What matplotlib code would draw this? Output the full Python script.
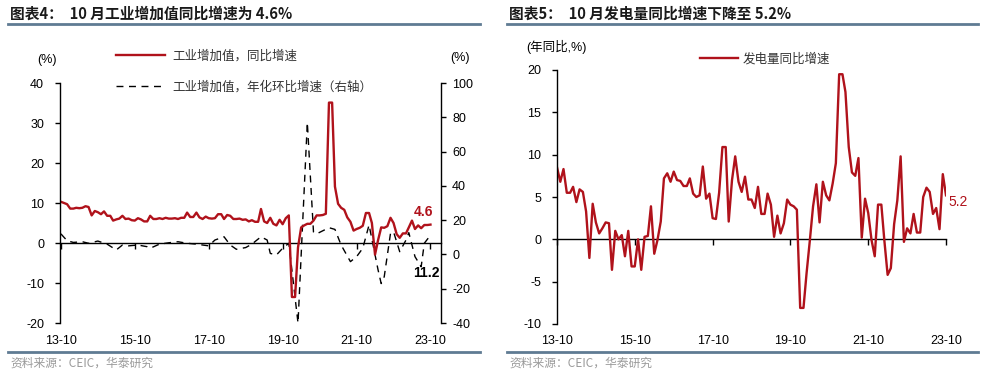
import matplotlib
matplotlib.use("Agg")
import matplotlib.pyplot as plt
import matplotlib.dates as mdates
from matplotlib.lines import Line2D
import pandas as pd

# ---------------- data ----------------
months = pd.date_range("2013-10-01", "2023-10-01", freq="MS")

# Industrial value added, YoY (%), left axis
iva_yoy = [10.3, 10.0, 9.7,
           8.6, 8.6, 8.8, 8.7, 8.8, 9.2, 9.0, 6.9, 8.0, 7.7, 7.2, 7.9,
           6.8, 6.8, 5.6, 5.9, 6.1, 6.8, 6.0, 6.1, 5.7, 5.6, 6.2, 5.9,
           5.4, 5.4, 6.8, 6.0, 6.0, 6.2, 6.0, 6.3, 6.1, 6.1, 6.2, 6.0,
           6.3, 6.3, 7.6, 6.5, 6.5, 7.6, 6.4, 6.0, 6.6, 6.2, 6.1, 6.2,
           7.2, 7.2, 6.0, 7.0, 6.8, 6.0, 6.0, 6.1, 5.8, 5.9, 5.4, 5.7,
           5.3, 5.3, 8.5, 5.4, 5.0, 6.3, 4.8, 4.4, 5.8, 4.7, 6.2, 6.9,
           -13.5, -13.5, -1.1, 3.9, 4.4, 4.8, 4.8, 5.6, 6.9, 6.9, 7.0, 7.3,
           35.1, 35.1, 14.1, 9.8, 8.8, 8.3, 6.4, 5.3, 3.1, 3.5, 3.8, 4.3,
           7.5, 7.5, 5.0, -2.9, 0.7, 3.9, 3.8, 4.2, 6.3, 5.0, 2.2, 1.3,
           2.4, 2.4, 3.9, 5.6, 3.5, 4.4, 3.7, 4.5, 4.5, 4.6]

# Industrial value added, annualised MoM (%), right axis (read at these months)
iva_mom_dates = ["2013-10", "2013-12", "2014-02", "2014-05", "2014-07", "2014-10",
                 "2015-01", "2015-04", "2015-06", "2015-08", "2015-11", "2016-02",
                 "2016-03", "2016-06", "2016-09", "2016-12", "2017-03", "2017-06",
                 "2017-10", "2017-12", "2018-03", "2018-05", "2018-07", "2018-10",
                 "2018-12", "2019-03", "2019-05", "2019-06", "2019-08", "2019-10",
                 "2019-12", "2020-03", "2020-06", "2020-08", "2020-09", "2021-01",
                 "2021-03", "2021-05", "2021-08", "2021-10", "2021-12", "2022-02",
                 "2022-05", "2022-06", "2022-07", "2022-09", "2022-10", "2022-12",
                 "2023-02", "2023-03", "2023-05", "2023-07", "2023-08", "2023-10"]
iva_mom = [12.0, 8.0, 7.0, 7.4, 6.5, 7.8,
           6.0, 2.6, 5.5, 5.0, 5.5, 4.5,
           3.6, 6.0, 6.8, 7.4, 6.5, 6.0,
           5.0, 8.4, 10.3, 5.5, 3.0, 4.0,
           6.0, 10.3, 8.4, 0.6, -0.3, 3.6,
           6.5, -40.0, 77.0, 13.0, 12.0, 15.6,
           14.6, 5.5, -4.2, -1.3, 3.6, 17.2,
           -9.0, -17.0, -13.0, 12.3, 13.2, 1.6,
           8.4, 12.7, -1.3, -7.2, 6.5, 11.2]

# Power generation, YoY (%)
power_yoy = [8.5, 6.8, 8.3, 5.5, 5.5, 6.2, 4.4, 5.9, 5.6, 3.3,
             -2.2, 4.2, 2.0, 0.7, 1.3, 2.0, 1.9, -3.6, 1.0, 0.0,
             0.5, -2.0, 1.0, -3.2, -3.2, 0.0, -3.6, 0.3, 0.4, 3.9,
             -1.7, -0.1, 2.1, 7.2, 7.8, 6.8, 8.0, 7.0, 6.9, 6.3,
             6.3, 7.2, 5.4, 5.0, 5.2, 8.6, 4.8, 5.4, 2.5, 2.4,
             5.5, 10.9, 10.9, 2.1, 7.0, 9.8, 6.8, 5.6, 7.4, 4.7,
             4.7, 3.7, 6.2, 3.0, 3.0, 5.4, 4.1, 0.3, 2.8, 0.7,
             1.9, 4.7, 4.1, 3.9, 3.5, -8.1, -8.1, -4.0, -0.1, 3.9,
             6.5, 2.0, 6.8, 5.2, 4.6, 6.6, 9.0, 19.5, 19.5, 17.4,
             10.9, 7.9, 7.5, 9.6, 0.2, 4.8, 3.1, -0.1, -2.0, 4.1,
             4.1, -0.1, -4.2, -3.4, 1.8, 4.6, 9.8, -0.3, 1.3, 0.7,
             3.0, 0.8, 0.8, 5.0, 6.1, 5.6, 3.0, 3.7, 1.2, 7.7,
             5.2]

tick_dates = ["2013-10", "2015-10", "2017-10", "2019-10", "2021-10", "2023-10"]
tick_labels = ["13-10", "15-10", "17-10", "19-10", "21-10", "23-10"]

left_title = "图表4：  10 月工业增加值同比增速为 4.6%"
right_title = "图表5：  10 月发电量同比增速下降至 5.2%"
source = "资料来源：CEIC，华泰研究"

# ---------------- style ----------------
RED = "#B0121B"
LINE_BLUE = "#5F7B93"
W, H = 985, 377
CJK = ["Noto Sans CJK SC", "DejaVu Sans"]
LAT = ["Liberation Sans", "Noto Sans CJK SC", "DejaVu Sans"]
plt.rcParams["font.family"] = LAT
plt.rcParams["axes.unicode_minus"] = False


def fx(px):
    return px / W


def fy(py):
    return 1 - py / H


def pos(x0, x1, y_top, y_bot):
    return [fx(x0), fy(y_bot), (x1 - x0) / W, (y_bot - y_top) / H]


x = mdates.date2num(months)
xt = mdates.date2num(pd.to_datetime(tick_dates))
xm = mdates.date2num(pd.to_datetime(iva_mom_dates))

fig = plt.figure(figsize=(W / 100, H / 100), dpi=100)

# ================= LEFT PANEL =================
ax = fig.add_axes(pos(60, 441, 83, 323))
ax2 = ax.twinx()
ax.set_zorder(ax2.get_zorder() + 1)
ax.patch.set_visible(False)

l2, = ax2.plot(xm, iva_mom, color="black", lw=1.0, ls=(0, (5, 4)),
               label="工业增加值，年化环比增速（右轴）")
l1, = ax.plot(x, iva_yoy, color=RED, lw=1.7, label="工业增加值，同比增速")

xl0 = mdates.date2num(pd.Timestamp("2013-09-22"))
xl1 = mdates.date2num(pd.Timestamp("2024-01-13"))
ax.set_xlim(xl0, xl1)
ax.set_ylim(-20, 40)
ax2.set_ylim(-40, 100)
ax.set_yticks(range(-20, 41, 10))
ax2.set_yticks(range(-40, 101, 20))

for s in ["top", "right", "bottom"]:
    ax.spines[s].set_visible(False)
for s in ["top", "left", "bottom"]:
    ax2.spines[s].set_visible(False)
ax.spines["left"].set_linewidth(1.0)
ax2.spines["right"].set_linewidth(1.0)
ax.tick_params(axis="y", direction="out", length=3.5, width=1, pad=8, labelsize=9)
ax2.tick_params(axis="y", direction="out", length=3.5, width=1, pad=4.5, labelsize=9)
ax.set_xticks(xt)
ax.set_xticklabels(tick_labels)
ax.tick_params(axis="x", length=0, pad=8.5, labelsize=9)

sec = ax.secondary_xaxis(0, transform=ax.transData)
sec.set_xticks(xt)
sec.tick_params(axis="x", direction="out", length=4, width=1, labelbottom=False)
sec.spines["bottom"].set_linewidth(1.0)

ax.annotate("4.6", (x[-1], iva_yoy[-1]), xytext=(-5, 9), textcoords="offset points",
            ha="center", va="center", color=RED, fontsize=10, fontweight="bold")
ax2.annotate("11.2", (xm[-1], iva_mom[-1]), xytext=(-3, -27), textcoords="offset points",
             ha="center", va="center", color="black", fontsize=10, fontweight="bold")

leg = ax.legend(handles=[l1, l2], loc="upper left", bbox_to_anchor=(0.135, 1.16),
                frameon=False, handlelength=3.9, handletextpad=0.6, labelspacing=1.45,
                prop={"family": CJK, "size": 9}, borderaxespad=0)
for t in leg.get_texts():
    t.set_color("#333333")

fig.text(fx(47), fy(60), "(%)", ha="center", va="center", fontsize=9)
fig.text(fx(460), fy(58), "(%)", ha="center", va="center", fontsize=9)

# ================= RIGHT PANEL =================
bx = fig.add_axes(pos(557, 946, 70, 324))
l3, = bx.plot(x, power_yoy, color=RED, lw=1.7, label="发电量同比增速")
bx.set_xlim(x[0], x[-1])
bx.set_ylim(-10, 20)
bx.set_yticks(range(-10, 21, 5))
for s in ["top", "right", "bottom"]:
    bx.spines[s].set_visible(False)
bx.spines["left"].set_linewidth(1.0)
bx.tick_params(axis="y", direction="out", length=3.5, width=1, pad=8, labelsize=9)
bx.set_xticks(xt)
bx.set_xticklabels(tick_labels)
bx.tick_params(axis="x", length=0, pad=8, labelsize=9)
sec2 = bx.secondary_xaxis(0, transform=bx.transData)
sec2.set_xticks(xt)
sec2.tick_params(axis="x", direction="out", length=4, width=1, labelbottom=False)
sec2.spines["bottom"].set_linewidth(1.0)

bx.annotate("5.2", (x[-1], power_yoy[-1]), xytext=(2, -5), textcoords="offset points",
            ha="left", va="center", color=RED, fontsize=10)

leg2 = bx.legend(handles=[l3], loc="upper left", bbox_to_anchor=(0.355, 1.09),
                 frameon=False, handlelength=3.0, handletextpad=0.4,
                 prop={"family": CJK, "size": 9}, borderaxespad=0)
for t in leg2.get_texts():
    t.set_color("#333333")

fig.text(fx(556), fy(47), "(年同比,%)", ha="center", va="center", fontsize=9,
         family=LAT)

# ================= titles / frames / source =================
for (x0, x1, title) in [(8, 480, left_title), (507, 978, right_title)]:
    fig.text(fx(x0 + 2), fy(14), title, ha="left", va="center", fontsize=10.6,
             fontweight="bold", family=CJK, color="#1a1a1a")
    fig.add_artist(Line2D([fx(x0), fx(x1)], [fy(24), fy(24)], color=LINE_BLUE, lw=2))
    fig.add_artist(Line2D([fx(x0), fx(x1)], [fy(352), fy(352)], color=LINE_BLUE, lw=2))
    fig.text(fx(x0 + 2), fy(363), source, ha="left", va="center", fontsize=8.5,
             family=CJK, color="#9a9a9a")

fig.savefig("out.png", dpi=100)
